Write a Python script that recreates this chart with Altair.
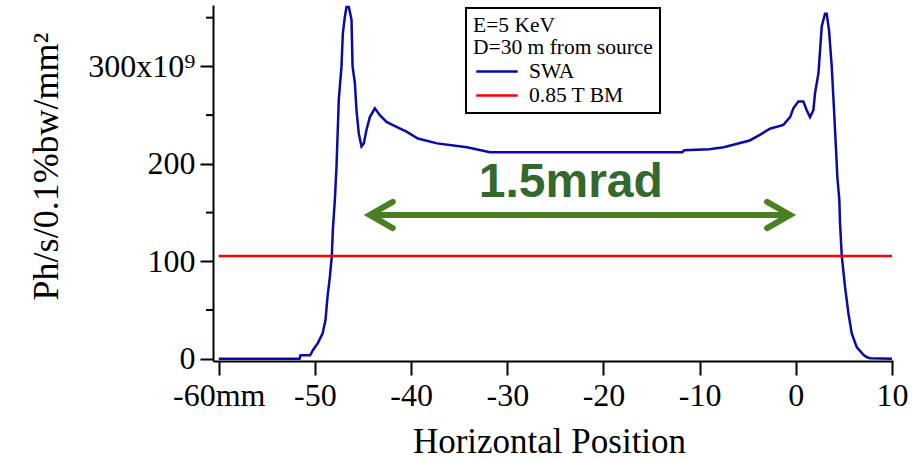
import altair as alt
import pandas as pd

# SWA horizontal beam profile: position (mm) vs flux density (1e9 ph/s/0.1%bw/mm^2)
swa_x = [-60.0, -51.6, -51.5, -50.5, -50.2, -49.7, -49.2, -48.9, -48.7, -48.45,
         -48.25, -48.14, -47.93, -47.76, -47.52, -47.24, -47.10, -46.89, -46.72, -46.48,
         -46.20, -46.09, -45.85, -45.68, -45.44, -45.16, -44.92, -44.64, -44.29, -43.77,
         -43.25, -42.56, -41.52, -40.48, -39.30, -37.3, -34.2, -31.8, -11.8, -11.6,
         -9.0, -7.5, -4.8, -3.7, -2.7, -1.3, -0.6, -0.26, 0.26, 0.78,
         1.13, 1.47, 1.82, 2.0, 2.35, 2.52, 2.69, 3.03, 3.21, 3.45,
         3.73, 3.97, 4.18, 4.31, 4.52, 4.58, 4.77, 5.11, 5.46, 5.81,
         6.33, 7.02, 7.4, 7.71, 10.0]
swa_y = [0, 0, 3.5, 3.5, 9, 16, 26, 40, 63, 84,
         105, 132, 163, 197, 266, 300, 334, 351, 361, 361,
         348, 300, 283, 255, 231, 218, 221, 235, 248, 257,
         250, 243, 238, 233, 226, 221, 217, 212, 212, 214,
         215, 217, 224, 230, 236, 240, 248, 257, 264, 264,
         255, 248, 255, 273, 293, 317, 341, 354, 354, 337,
         300, 255, 214, 187, 163, 142, 106, 74, 47, 26,
         12, 4, 1.5, 0.5, 0]

# 0.85 T bending magnet reference level
bm_x = [-60.0, 10.0]
bm_y = [105.5, 105.5]

series_names = ["SWA", "0.85 T BM"]
series_colors = ["#0a0aa5", "#ff0000"]

# angular acceptance annotation
arrow_x = [-44.3]
arrow_x2 = [-0.6]
arrow_y = [147.6]
note_text = ["1.5mrad"]
note_x = [-23.4]
note_y = [166.0]

y_major = [0, 100, 200, 300]
y_minor = [50, 150, 250, 350]
x_ticks = [-60, -50, -40, -30, -20, -10, 0, 10]

SERIF = "Liberation Serif"
GREEN_ARROW = "#4a7f22"
GREEN_TEXT = "#33692c"

profiles = pd.concat([
    pd.DataFrame({"pos": swa_x, "flux": swa_y, "series": series_names[0]}),
    pd.DataFrame({"pos": bm_x, "flux": bm_y, "series": series_names[1]}),
])

x_scale = alt.Scale(domain=[-60.6, 10.1], nice=False, zero=False)
y_scale = alt.Scale(domain=[-2.3, 363], nice=False, zero=False)

x_enc = alt.X(
    "pos:Q", scale=x_scale,
    axis=alt.Axis(
        values=x_ticks,
        labelExpr="datum.value == -60 ? '-60mm' : '' + datum.value",
        labelFlush=False,
        title="Horizontal Position",
        titleX=336, titleY=91, titleBaseline="alphabetic",
        titleFont=SERIF, titleFontSize=35, titleFontWeight="normal", titleColor="black",
        labelFont=SERIF, labelFontSize=32, labelColor="black", labelPadding=5,
        tickSize=14, tickWidth=2, tickColor="black",
        domainColor="black", domainWidth=2, grid=False,
    ),
)
y_enc = alt.Y(
    "flux:Q", scale=y_scale,
    axis=alt.Axis(
        values=y_major,
        labelExpr="datum.value == 300 ? '300x10\u2079' : '' + datum.value",
        labelFlush=False,
        title="Ph/s/0.1%bw/mm\u00b2",
        titleX=-156, titleY=161, titleAngle=270, titleAlign="center",
        titleBaseline="alphabetic",
        titleFont=SERIF, titleFontSize=36, titleFontWeight="normal", titleColor="black",
        labelFont=SERIF, labelFontSize=32, labelColor="black", labelPadding=5,
        tickSize=13, tickWidth=2, tickColor="black",
        domainColor="black", domainWidth=2, grid=False,
    ),
)

lines = alt.Chart(profiles).mark_line(strokeWidth=2.5).encode(
    x=x_enc,
    y=y_enc,
    color=alt.Color(
        "series:N",
        scale=alt.Scale(domain=series_names, range=series_colors),
        sort=series_names,
        legend=alt.Legend(
            title=["E=5 KeV", "D=30 m from source"],
            orient="none", legendX=253, legendY=3,
            titleFont=SERIF, titleFontSize=21.5, titleFontWeight="normal",
            titleColor="black", titleLineHeight=22, titlePadding=0,
            labelFont=SERIF, labelFontSize=21.5, labelColor="black",
            symbolType="M -1.8 0 H 1.8", symbolSize=529, symbolStrokeWidth=2.5,
            symbolOffset=11, labelOffset=19, rowPadding=0,
            padding=7, strokeColor="black",
        ),
    ),
    detail="series:N",
)

# shorter intermediate ticks on the vertical axis
minor_ticks = alt.Chart(pd.DataFrame({"flux": y_minor})).mark_rule(
    color="black", strokeWidth=2
).encode(
    y=alt.Y("flux:Q", scale=y_scale),
    x=alt.value(-7),
    x2=alt.value(0),
)

arrow_df = pd.DataFrame({"pos": arrow_x, "pos2": arrow_x2, "flux": arrow_y})
shaft = alt.Chart(arrow_df).mark_rule(color=GREEN_ARROW, strokeWidth=6).encode(
    x=alt.X("pos:Q", scale=x_scale),
    x2="pos2:Q",
    y=alt.Y("flux:Q", scale=y_scale),
)
head_right = alt.Chart(arrow_df).mark_point(
    shape="M -1 -0.57 L 0 0 L -1 0.57", size=2116, filled=False,
    color=GREEN_ARROW, strokeWidth=6, opacity=1, strokeCap="round",
).encode(
    x=alt.X("pos2:Q", scale=x_scale),
    y=alt.Y("flux:Q", scale=y_scale),
)
head_left = alt.Chart(arrow_df).mark_point(
    shape="M 1 -0.57 L 0 0 L 1 0.57", size=2116, filled=False,
    color=GREEN_ARROW, strokeWidth=6, opacity=1, strokeCap="round",
).encode(
    x=alt.X("pos:Q", scale=x_scale),
    y=alt.Y("flux:Q", scale=y_scale),
)

note = alt.Chart(pd.DataFrame({"pos": note_x, "flux": note_y, "t": note_text})).mark_text(
    font="Liberation Sans", fontWeight="bold", fontSize=48, color=GREEN_TEXT,
    align="center", baseline="alphabetic",
).encode(
    x=alt.X("pos:Q", scale=x_scale),
    y=alt.Y("flux:Q", scale=y_scale),
    text="t:N",
)

chart = alt.layer(lines, minor_ticks, shaft, head_right, head_left, note).properties(
    width=680,
    height=356,
    autosize=alt.AutoSizeParams(type="none"),
    padding={"left": 213, "top": 5, "right": 19, "bottom": 99},
    background="white",
).configure_view(stroke=None).configure_legend(strokeWidth=2)

chart.save("out.html", embed_options={"renderer": "svg", "actions": False})
